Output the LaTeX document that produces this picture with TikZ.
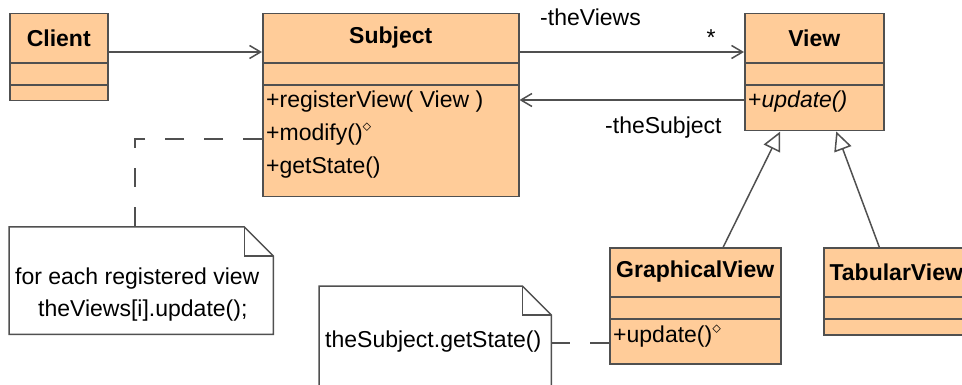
\documentclass[tikz,border=0pt]{standalone}
\usepackage{fontspec}
\setmainfont{Liberation Sans}
\usetikzlibrary{arrows.meta}
\definecolor{classfill}{RGB}{255,204,153}
\definecolor{umlline}{RGB}{80,80,80}
\tikzset{
  umltext/.style={font=\fontsize{23}{27}\selectfont,inner sep=0pt,text=black},
  classbox/.style={draw=umlline,fill=classfill,line width=1.5pt,anchor=north west,inner sep=0pt},
  notebox/.style={anchor=north west,inner sep=0pt},
  noteline/.style={draw=umlline,fill=white,line width=1.5pt},
  assoc/.style={draw=umlline,line width=1.5pt,-{Straight Barb[length=11pt,width=13pt,line width=1.5pt]}},
  inherit/.style={draw=umlline,line width=1.5pt,-{Triangle[open,length=19pt,width=18pt,fill=white,line width=1.5pt]}},
  anchorline/.style={draw=umlline,line width=1.5pt,dash pattern=on 19pt off 20pt},
}
\begin{document}
\begin{tikzpicture}[x=1pt,y=-1pt]
\useasboundingbox(0,0)rectangle(962,385);
\clip(0,0)rectangle(962,385);
\pgfmathsetmacro{\ktop}{50}
\pgfmathsetmacro{\kmid}{72}
% class boxes
\node[classbox,minimum width=98pt,minimum height=87pt](client)at(9,13){};
\node[classbox,minimum width=256pt,minimum height=183pt](subject)at(262,13){};
\node[classbox,minimum width=139pt,minimum height=117pt](view)at(744,13){};
\node[classbox,minimum width=171pt,minimum height=116pt](graph)at(609,247){};
\node[classbox,minimum width=145pt,minimum height=87pt](tab)at(823,247){};
\foreach \n in {client,subject,view,graph,tab}{
  \draw[umlline,line width=1.5pt]([yshift=-\ktop pt]\n.north west)--([yshift=-\ktop pt]\n.north east);
  \draw[umlline,line width=1.5pt]([yshift=-\kmid pt]\n.north west)--([yshift=-\kmid pt]\n.north east);}
\foreach \n/\t in {client/Client,subject/Subject,view/View,graph/GraphicalView,tab/TabularView}{
  \node[umltext,font=\fontsize{23}{27}\selectfont\bfseries](\n-title)at([yshift=-25pt]\n.north){\t};}
% operations
\foreach \i/\y/\m in {1/102/{+registerView( View )},2/135/{+modify()$^{\diamond}$},3/168/{+getState()}}{
  \node[umltext,anchor=west](subject-m\i)at(266,\y){\m};}
\node[umltext,anchor=west](view-m1)at(748,102){+\textit{update()}};
\node[umltext,anchor=west](graph-m1)at(613,337){+update()$^{\diamond}$};
% notes
\node[notebox,minimum width=264pt,minimum height=107pt](note1)at(9,227){};
\node[notebox,minimum width=232pt,minimum height=104pt](note2)at(319,286){};
\foreach \n in {note1,note2}{
  \draw[noteline](\n.north west)--([xshift=-29pt]\n.north east)--([yshift=-29pt]\n.north east)--(\n.south east)--(\n.south west)--cycle;
  \draw[umlline,line width=1.5pt]([xshift=-29pt]\n.north east)|-([yshift=-29pt]\n.north east);}
\node[umltext,anchor=west](note1-l1)at(15,279){for each registered view};
\node[umltext,anchor=west](note1-l2)at(38,311){theViews[i].update();};
\node[umltext,anchor=west](note2-l1)at(325,342){theSubject.getState()};
% associations
\draw[assoc]([yshift=-39pt]client.north east)--([yshift=-39pt]subject.north west);
\draw[assoc]([yshift=-39pt]subject.north east)--([yshift=-39pt]view.north west);
\draw[assoc]([yshift=-87pt]view.north west)--([yshift=-87pt]subject.north east);
\node[umltext,anchor=west](role-views)at(540,17){-theViews};
\node[umltext](mult-views)at(711,38){*};
\node[umltext,anchor=west](role-subject)at(605,128){-theSubject};
% generalizations
\draw[inherit]([xshift=28pt]graph.north)--([xshift=-34pt]view.south);
\draw[inherit]([xshift=-17pt]tab.north)--([xshift=22pt]view.south);
% note anchors
\draw[anchorline]([yshift=-126pt]subject.north west)-|([xshift=-6pt]note1.north);
\draw[anchorline]([yshift=-57pt]note2.north east)--([yshift=-96pt]graph.north west);
\end{tikzpicture}
\end{document}
